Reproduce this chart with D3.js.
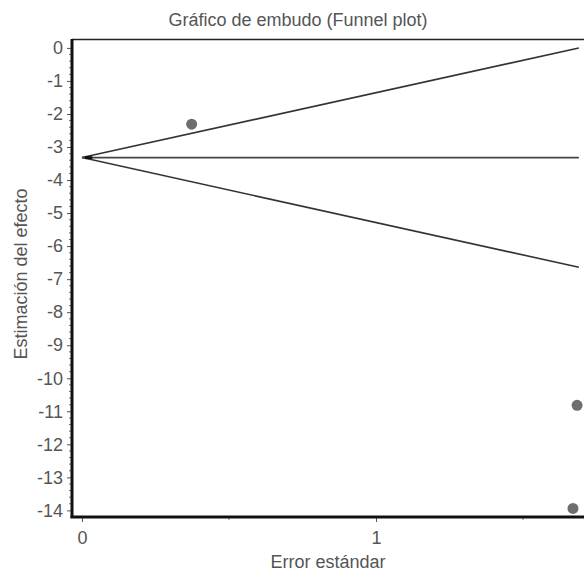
<!DOCTYPE html>
<html>
<head>
<meta charset="utf-8">
<script src="https://cdn.jsdelivr.net/npm/d3@7"></script>
<style>
body { margin: 0; background: #fff; }
text { font-family: "Liberation Sans", Arial, sans-serif; }
</style>
</head>
<body>
<div id="chart"></div>
<script>
// study points (standard error, effect estimate)
var studySE = [0.373, 1.684, 1.67];
var studyEst = [-2.31, -10.82, -13.94];

// funnel: apex at SE = 0, ends at max SE
var funnelSE = [0, 1.69];
var upperLine = [-3.32, 0.0];
var lowerLine = [-3.32, -6.64];
var pooledLine = [-3.32, -3.32];

var yTicks = d3.range(0, -15, -1);
var xTicks = [0, 1];
var xMinor = [0.5, 1.5];

var width = 584, height = 574;
var fs = 18;

var svg = d3.select("#chart").append("svg")
    .attr("width", width)
    .attr("height", height);

/* scales */
var x = d3.scaleLinear().domain([-0.034, 1.76]).range([72, 72 + 1.794 * 294]);
var y = d3.scaleLinear().domain([0.27, -14.2]).range([39, 517]);

// y minor ticks every 0.2
var yMinor = [];
for (i = 0; i < 14 * 5; i++) {
    if (i % 5 != 0) yMinor.push(-i * 0.2);
}

// top border
svg.append("line")
    .attr("x1", x.range()[0]).attr("x2", x.range()[1])
    .attr("y1", 39.5).attr("y2", 39.5)
    .attr("stroke", "#222").attr("stroke-width", 1.5);

/* funnel lines */
var line = d3.line()
    .x(function(d) { return x(d[0]); })
    .y(function(d) { return y(d[1]); });

[upperLine, lowerLine, pooledLine].forEach(function(l, k) {
    svg.append("path")
        .attr("d", line(funnelSE.map(function(s, i) { return [s, l[i]]; })))
        .attr("fill", "none")
        .attr("stroke", k == 2 ? "#444" : "#333")
        .attr("stroke-width", 1.6);
});

// apex marker
svg.append("line")
    .attr("x1", x(0.01)).attr("x2", x(0.035))
    .attr("y1", y(pooledLine[0])).attr("y2", y(pooledLine[0]))
    .attr("stroke", "#111").attr("stroke-width", 3);

/* points */
svg.selectAll("circle.pt")
    .data(studySE)
    .enter().append("circle")
    .attr("class", "pt")
    .attr("cx", function(d) { return x(d); })
    .attr("cy", function(d, i) { return y(studyEst[i]); })
    .attr("r", 5.5)
    .attr("fill", "#6e6e6e");

/* axes */
var yAxis = d3.axisLeft(y).tickValues(yTicks).tickSize(5).tickPadding(4)
    .tickFormat(function(d) { return d == 0 ? "0" : "-" + Math.abs(d); });
var gy = svg.append("g")
    .attr("transform", "translate(72,0)")
    .call(yAxis);
gy.selectAll(".tick line").attr("stroke", "#555");
gy.select(".domain").remove();
gy.selectAll(".tick text").attr("font-size", fs).attr("fill", "#555")
    .attr("font-family", "Liberation Sans, Arial, sans-serif");
gy.selectAll("line.minor")
    .data(yMinor)
    .enter().append("line")
    .attr("class", "minor")
    .attr("x1", -3).attr("x2", 0)
    .attr("y1", function(d) { return y(d); })
    .attr("y2", function(d) { return y(d); })
    .attr("stroke", "#777");
svg.append("line")
    .attr("x1", 72).attr("x2", 72)
    .attr("y1", 39).attr("y2", 518)
    .attr("stroke", "#111").attr("stroke-width", 3);

var xAxis = d3.axisBottom(x).tickValues(xTicks).tickSize(5).tickPadding(9)
    .tickFormat(d3.format("d"));
var gx = svg.append("g")
    .attr("transform", "translate(0,517)")
    .call(xAxis);
gx.select(".domain").remove();
gx.selectAll(".tick line").attr("stroke", "#555");
gx.selectAll(".tick text").attr("font-size", fs).attr("fill", "#555")
    .attr("font-family", "Liberation Sans, Arial, sans-serif");
gx.selectAll("line.minor")
    .data(xMinor)
    .enter().append("line")
    .attr("class", "minor")
    .attr("x1", function(d) { return x(d); })
    .attr("x2", function(d) { return x(d); })
    .attr("y1", 0).attr("y2", 3)
    .attr("stroke", "#777");
svg.append("line")
    .attr("x1", 70.5).attr("x2", x.range()[1])
    .attr("y1", 517).attr("y2", 517)
    .attr("stroke", "#111").attr("stroke-width", 3);

/* titles */
svg.append("text")
    .attr("x", 298).attr("y", 26)
    .attr("text-anchor", "middle")
    .attr("font-size", fs).attr("fill", "#555")
    .text("Gráfico de embudo (Funnel plot)");

svg.append("text")
    .attr("x", 328).attr("y", 568)
    .attr("text-anchor", "middle")
    .attr("font-size", fs).attr("fill", "#555")
    .text("Error estándar");

svg.append("text")
    .attr("transform", "translate(27,274) rotate(-90)")
    .attr("text-anchor", "middle")
    .attr("font-size", fs).attr("fill", "#555")
    .text("Estimación del efecto");
</script>
</body>
</html>
